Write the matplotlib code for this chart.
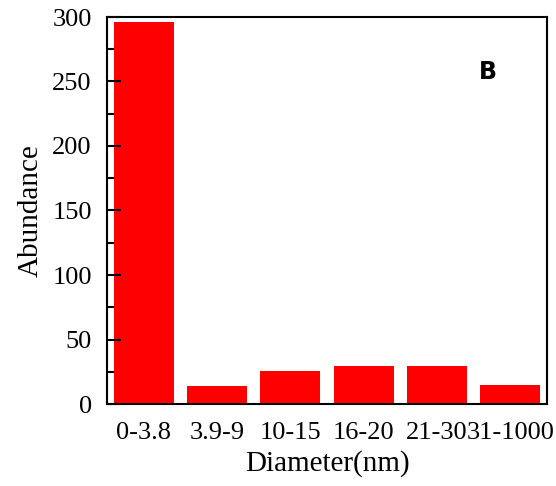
import matplotlib
matplotlib.use("Agg")
import matplotlib.pyplot as plt
from matplotlib.ticker import MultipleLocator

categories = ['0-3.8', '3.9-9', '10-15', '16-20', '21-30', '31-1000']
abundance = [296, 14, 25.5, 29.5, 29.5, 14.5]

plt.rcParams['font.family'] = 'Liberation Serif'

fig = plt.figure(figsize=(5.56, 4.86), dpi=100)
ax = fig.add_axes([107 / 556, 1 - 404 / 486, 440 / 556, 387 / 486])

x = range(len(categories))
ax.bar(x, abundance, width=0.82, color='#ff0000')

ax.set_xlim(-0.5, len(categories) - 0.5)
ax.set_ylim(0, 300)
ax.set_xticks(list(x))
ax.set_xticklabels(categories, fontsize=19)
ax.tick_params(axis='x', length=0, pad=13)
ax.yaxis.set_major_locator(MultipleLocator(50))
ax.yaxis.set_minor_locator(MultipleLocator(25))
ax.tick_params(axis='y', which='major', direction='in', length=10, width=1.5, labelsize=19, pad=11)
ax.tick_params(axis='y', which='minor', direction='in', length=5, width=1.5)
for s in ax.spines.values():
    s.set_linewidth(1.5)

ax.set_xlabel('Diameter(nm)', fontsize=21, labelpad=4)
ax.set_ylabel('Abundance', fontsize=21, labelpad=6)

ax.text(0.866, 0.858, 'B', transform=ax.transAxes, fontsize=17, fontweight='bold',
        family='DejaVu Sans', ha='center', va='center',
        bbox=dict(facecolor='white', edgecolor='none', pad=10))

fig.savefig('out.png', dpi=100)
